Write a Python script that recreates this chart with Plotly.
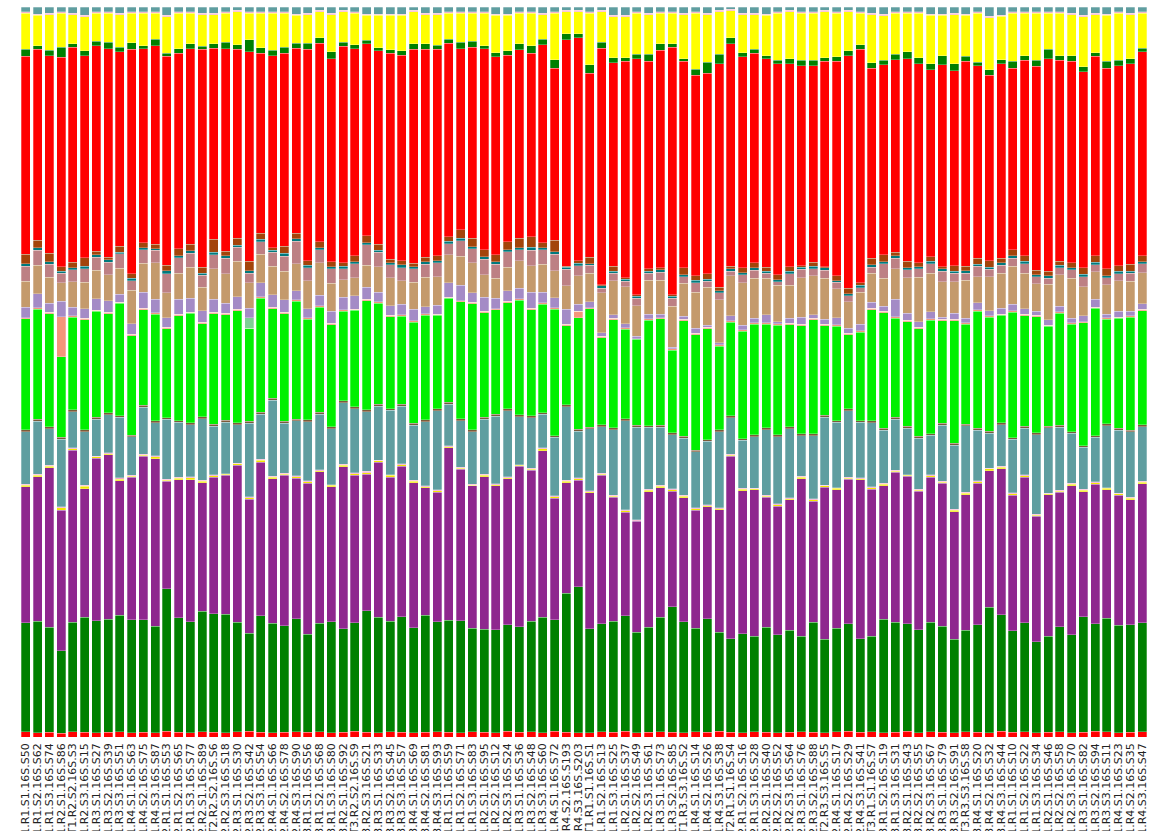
import plotly.graph_objects as go

labels = [
 "CT1.R1.S1.16S.S50","CT1.R1.S2.16S.S62","CT1.R1.S3.16S.S74","CT1.R2.S1.16S.S86","CT1.R2.S2.16S.S3","CT1.R2.S3.16S.S15",
 "CT1.R3.S1.16S.S27","CT1.R3.S2.16S.S39","CT1.R3.S3.16S.S51","CT1.R4.S1.16S.S63","CT1.R4.S2.16S.S75","CT1.R4.S3.16S.S87",
 "CT2.R1.S1.16S.S53","CT2.R1.S2.16S.S65","CT2.R1.S3.16S.S77","CT2.R2.S1.16S.S89","CT2.R2.S2.16S.S6","CT2.R2.S3.16S.S18",
 "CT2.R3.S1.16S.S30","CT2.R3.S2.16S.S42","CT2.R3.S3.16S.S54","CT2.R4.S1.16S.S66","CT2.R4.S2.16S.S78","CT2.R4.S3.16S.S90",
 "CT3.R1.S1.16S.S56","CT3.R1.S2.16S.S68","CT3.R1.S3.16S.S80","CT3.R2.S1.16S.S92","CT3.R2.S2.16S.S9","CT3.R2.S3.16S.S21",
 "CT3.R3.S1.16S.S33","CT3.R3.S2.16S.S45","CT3.R3.S3.16S.S57","CT3.R4.S1.16S.S69","CT3.R4.S2.16S.S81","CT3.R4.S3.16S.S93",
 "CK1.R1.S1.16S.S59","CK1.R1.S2.16S.S71","CK1.R1.S3.16S.S83","CK1.R2.S1.16S.S95","CK1.R2.S2.16S.S12","CK1.R2.S3.16S.S24",
 "CK1.R3.S1.16S.S36","CK1.R3.S2.16S.S48","CK1.R3.S3.16S.S60","CK1.R4.S1.16S.S72","CK1.R4.S2.16S.S193","CK1.R4.S3.16S.S203",
 "NT1.R1.S1.16S.S1","NT1.R1.S2.16S.S13","NT1.R1.S3.16S.S25","NT1.R2.S1.16S.S37","NT1.R2.S2.16S.S49","NT1.R2.S3.16S.S61",
 "NT1.R3.S1.16S.S73","NT1.R3.S2.16S.S85","NT1.R3.S3.16S.S2","NT1.R4.S1.16S.S14","NT1.R4.S2.16S.S26","NT1.R4.S3.16S.S38",
 "NT2.R1.S1.16S.S4","NT2.R1.S2.16S.S16","NT2.R1.S3.16S.S28","NT2.R2.S1.16S.S40","NT2.R2.S2.16S.S52","NT2.R2.S3.16S.S64",
 "NT2.R3.S1.16S.S76","NT2.R3.S2.16S.S88","NT2.R3.S3.16S.S5","NT2.R4.S1.16S.S17","NT2.R4.S2.16S.S29","NT2.R4.S3.16S.S41",
 "NT3.R1.S1.16S.S7","NT3.R1.S2.16S.S19","NT3.R1.S3.16S.S31","NT3.R2.S1.16S.S43","NT3.R2.S2.16S.S55","NT3.R2.S3.16S.S67",
 "NT3.R3.S1.16S.S79","NT3.R3.S2.16S.S91","NT3.R3.S3.16S.S8","NT3.R4.S1.16S.S20","NT3.R4.S2.16S.S32","NT3.R4.S3.16S.S44",
 "NK1.R1.S1.16S.S10","NK1.R1.S2.16S.S22","NK1.R1.S3.16S.S34","NK1.R2.S1.16S.S46","NK1.R2.S2.16S.S58","NK1.R2.S3.16S.S70",
 "NK1.R3.S1.16S.S82","NK1.R3.S2.16S.S94","NK1.R3.S3.16S.S11","NK1.R4.S1.16S.S23","NK1.R4.S2.16S.S35","NK1.R4.S3.16S.S47",
]

red_low = [11,9,10,8,11,10,9,10,11,9,10,9, 12,10,9,11,10,9,11,12,10,9,10,11, 10,11,9,10,12,10,9,11,10,9,10,11,
           10,9,11,10,9,12,10,11,9,12,10,9, 9,11,10,12,9,10,11,10,9,11,10,12, 10,9,11,10,9,10,11,10,9,11,12,10,
           11,9,10,12,9,11,10,9,11,10,9,12, 10,11,9,10,11,9,10,12,11,9,10,11]
green = [231,236,223,175,233,245,237,240,247,240,239,226, 303,243,235,256,251,251,232,208,247,232,226,240,
         208,230,235,220,230,258,245,235,245,223,248,233, 238,237,220,218,218,226,223,235,245,237,295,309,
         220,230,235,245,213,223,243,266,235,220,240,210, 198,210,203,223,208,216,203,233,198,220,228,198,
         203,240,233,228,218,233,225,198,216,228,266,248, 215,231,193,203,223,208,245,228,241,228,228,231]
purple = [289,307,338,298,365,273,344,348,286,301,346,355, 228,293,301,272,290,294,333,285,326,306,319,298,
          320,321,286,343,313,290,328,305,320,307,270,275, 365,321,301,324,305,310,340,320,353,258,235,226,
          288,315,263,220,235,287,275,245,263,250,238,260, 387,303,310,275,272,277,335,257,322,293,307,337,
          312,283,318,313,293,307,303,270,287,300,289,310, 288,309,265,300,285,315,265,297,272,275,265,295]
gold_thin = [3,3,3,5,3,5,3,2,3,3,3,4, 2,3,4,3,3,2,3,3,4,3,3,4, 3,2,3,3,3,3,3,4,3,3,2,3,
             3,3,2,3,3,3,2,3,4,3,3,3, 2,3,3,3,2,3,3,3,3,3,2,3, 3,3,2,3,3,2,3,3,3,3,2,3,
             3,3,3,2,3,3,2,3,3,3,4,3, 3,3,3,2,3,3,3,3,3,3,3,3]
pink_thin = [2,2,2,2,2,2,2,2,3,2,2,2, 2,2,2,2,2,2,2,2,2,2,2,2, 2,2,2,2,2,3,2,2,2,2,2,2,
             2,2,2,2,2,2,2,2,2,2,2,2, 2,2,2,2,2,2,2,2,2,2,2,2, 2,2,2,2,2,2,2,2,2,2,2,2,
             2,2,2,2,2,2,2,2,2,2,2,2, 2,2,2,2,2,2,2,2,2,2,2,2]
teal = [112,113,78,143,76,114,78,81,128,81,99,70, 127,116,111,131,103,109,81,156,96,161,106,116,
        126,118,118,131,136,126,114,136,122,117,136,168, 88,98,111,117,143,140,101,107,71,124,156,99,
        131,99,139,189,196,131,123,115,121,119,134,161, 77,101,109,139,142,146,86,134,144,138,141,117,
        136,113,108,98,108,84,119,136,141,108,74,88, 113,99,168,138,133,106,89,94,131,133,139,116]
brown_thin = [4,4,4,4,4,4,4,4,4,4,4,4, 3,4,4,4,4,4,4,4,4,4,4,4, 4,4,4,4,4,4,4,4,4,4,4,4,
              4,4,4,4,4,4,4,4,4,4,4,4, 4,4,4,4,4,4,4,4,4,4,4,4, 4,4,4,4,4,4,4,4,4,4,4,4,
              4,4,4,4,4,4,4,4,4,4,4,4, 4,4,4,4,4,4,4,4,4,4,4,4]
lime = [235,233,240,171,197,234,225,210,238,210,203,226, 189,222,232,197,235,223,238,198,242,190,228,250,
        213,223,217,190,205,232,214,195,187,214,222,198, 220,248,267,222,221,225,243,225,230,268,168,237,
        250,185,229,190,182,223,226,175,245,245,235,178, 199,227,234,219,232,217,230,242,190,200,158,187,
        236,245,210,222,228,240,217,260,212,248,242,228, 266,235,246,211,238,227,260,270,222,233,239,242]
salmon = [3,3,3,85,3,3,2,3,3,3,3,3, 3,3,2,3,3,3,3,0,3,3,3,3, 3,3,3,3,2,3,3,3,3,3,3,3,
          3,3,3,3,3,3,3,3,3,3,3,13, 3,3,3,3,2,3,3,3,3,3,3,3, 3,3,3,3,3,3,3,3,3,3,3,3,
          3,3,3,3,3,3,3,3,3,3,3,3, 3,3,3,3,3,3,3,3,3,3,3,3]
palegreen = [0,0,0,0,0,0,0,0,0,0,0,0, 0,0,0,0,0,0,0,22,0,0,0,0, 0,0,0,0,0,0,0,0,0,0,0,0,
             0,0,0,0,0,0,0,0,0,0,0,0, 0,0,0,0,0,0,0,0,0,0,0,0, 0,0,0,0,0,0,0,0,0,0,0,0,
             0,0,0,0,0,0,0,0,0,0,0,0, 0,0,0,0,0,0,0,0,0,0,0,0]
lavender = [22,30,19,32,18,20,24,24,17,23,34,29, 21,32,30,25,27,22,27,20,30,27,27,20,
            19,22,25,27,29,25,20,20,22,25,15,19, 30,32,20,30,22,22,22,34,22,22,32,15,
            12,7,7,9,5,10,7,3,7,10,4,4, 10,10,10,17,4,10,15,7,10,15,10,14,
            12,10,37,15,11,15,5,12,10,15,10,12, 14,12,9,11,12,10,12,17,7,12,10,12]
tan = [55,60,55,40,54,57,60,56,55,71,62,77, 53,55,65,50,65,62,75,55,60,60,60,57,
       60,69,60,37,38,47,55,60,50,57,62,60, 60,62,64,47,42,50,59,57,60,57,50,60,
       60,85,73,78,65,72,72,87,70,77,80,91, 85,90,85,78,78,70,84,83,87,62,57,68,
       62,60,65,75,95,82,75,67,80,55,72,75, 80,75,58,75,67,85,62,58,63,65,63,65]
rosy = [32,32,28,20,25,28,28,26,30,20,28,26, 40,33,30,25,30,33,30,20,27,30,32,48,
        27,28,30,23,30,43,30,27,28,28,28,30, 23,33,30,33,30,33,23,33,30,35,35,22,
        17,10,15,12,15,15,17,17,13,20,13,15, 10,17,17,10,7,25,18,15,17,13,12,10,
        13,30,22,17,18,20,22,18,15,22,16,17, 17,20,15,13,15,18,21,15,15,15,17,20]
darkteal = [5,6,5,4,5,6,5,5,4,5,5,4, 6,5,5,4,5,5,4,5,5,4,6,5, 5,4,5,5,4,5,5,4,6,5,5,4,
            5,5,4,5,5,5,4,6,5,5,4,5, 4,5,5,4,5,4,5,4,5,5,4,5, 5,4,5,5,4,5,4,5,5,4,5,5,
            5,4,5,5,4,5,5,4,5,5,4,5, 5,5,4,5,5,4,5,5,4,5,5,4]
brown = [20,15,18,10,11,18,8,6,12,10,10,9, 12,14,14,13,27,10,15,20,13,5,15,12,
         10,13,10,8,13,15,12,8,9,7,10,11, 10,18,18,15,15,17,20,22,10,25,3,5,
         13,3,10,3,3,5,5,3,14,10,12,7, 5,11,11,8,11,10,3,9,3,10,11,5,
         14,15,8,13,8,10,5,12,10,12,14,10, 13,12,9,10,8,10,14,14,15,12,15,12]
red = [420,405,419,443,457,429,435,442,413,476,411,421, 443,415,415,462,406,429,400,445,382,407,410,392,
       448,420,430,459,439,407,410,437,436,453,440,437, 410,384,405,427,420,396,400,390,420,365,480,473,
       390,502,432,460,500,440,461,525,438,425,425,475, 472,447,444,442,447,430,425,416,435,455,494,495,
       403,403,408,430,422,397,428,413,435,408,393,413, 385,415,433,450,427,427,416,423,425,423,425,433]
darkgreen = [15,8,11,22,7,11,10,13,10,13,7,14, 7,10,10,7,9,13,10,25,12,11,13,11,
             13,12,15,8,8,7,7,7,9,12,12,9, 9,13,12,6,8,9,12,16,12,18,13,8,
             18,13,10,7,10,15,14,7,5,13,23,20, 13,8,8,7,7,10,12,12,7,10,10,10,
             12,9,12,15,13,13,19,15,10,8,12,8, 15,10,12,20,10,12,10,8,15,12,10,8]
yellow = [77,64,76,72,62,72,59,62,69,63,69,55, 77,75,65,67,62,62,70,57,73,79,72,59,
          61,55,79,65,67,53,68,73,75,68,62,65, 55,62,60,69,79,75,65,69,52,99,47,47,
          109,65,87,87,87,84,65,65,94,119,101,90, 57,81,74,85,100,100,100,100,98,92,83,67,
          102,95,87,82,94,102,85,104,87,104,110,92, 102,90,100,77,90,87,106,81,97,100,94,74]
pink_top = [3,3,3,3,3,4,3,3,3,3,3,3, 3,3,3,3,3,3,3,3,3,3,3,3, 3,3,3,3,3,3,3,3,3,3,3,3,
            3,3,3,3,3,3,3,3,3,3,3,3, 3,3,3,3,3,3,3,3,3,3,3,3, 3,3,3,3,3,3,3,3,3,3,3,3,
            3,3,3,3,3,3,3,3,3,3,3,3, 3,3,3,3,3,3,3,3,3,3,3,3]
cadet_top = [10,15,13,10,13,17,10,10,13,10,10,10, 18,10,10,13,13,10,7,10,10,10,10,15,
             13,7,13,7,10,15,15,15,15,7,13,13, 10,10,10,10,15,15,10,10,13,10,7,7,
             10,7,18,18,10,13,10,10,13,10,13,7, 5,13,13,15,10,7,10,10,7,10,7,10,
             13,15,10,10,10,15,15,13,15,10,20,17, 10,10,10,10,10,13,18,13,15,10,13,10]

series = [
    ("Taxon_r1", red_low, "#FF0000"),
    ("Taxon_g1", green, "#008000"),
    ("Taxon_p1", purple, "#8E278E"),
    ("Taxon_y1", gold_thin, "#F2E600"),
    ("Taxon_k1", pink_thin, "#F4A6C8"),
    ("Taxon_c1", teal, "#5F9EA0"),
    ("Taxon_b1", brown_thin, "#7A5A3A"),
    ("Taxon_l1", lime, "#00F000"),
    ("Taxon_s1", salmon, "#F4967A"),
    ("Taxon_pg", palegreen, "#7ECF95"),
    ("Taxon_v1", lavender, "#A48BC6"),
    ("Taxon_t1", tan, "#C49A6C"),
    ("Taxon_rb", rosy, "#BD8084"),
    ("Taxon_dt", darkteal, "#00797C"),
    ("Taxon_br", brown, "#A3440A"),
    ("Taxon_r2", red, "#FF0000"),
    ("Taxon_g2", darkgreen, "#008000"),
    ("Taxon_y2", yellow, "#FFFF00"),
    ("Taxon_k2", pink_top, "#F8B4C8"),
    ("Taxon_c2", cadet_top, "#5F9EA0"),
]

fig = go.Figure()
for name, vals, col in series:
    fig.add_trace(go.Bar(
        x=labels, y=vals, name=name,
        marker=dict(color=col, line=dict(color="rgba(255,255,255,0.55)", width=0.5)),
    ))

fig.update_layout(
    width=1151, height=831,
    barmode="stack", barnorm="percent", bargap=0.23,
    showlegend=False,
    paper_bgcolor="white", plot_bgcolor="white",
    margin=dict(l=20, r=3, t=7, b=94, autoexpand=False),
    font=dict(family="DejaVu Sans", color="#222"),
)
fig.update_xaxes(tickangle=-90, tickmode="linear", dtick=1,
                 tickfont=dict(size=11, family="DejaVu Sans", color="#222"),
                 ticklabelstandoff=3,
                 showgrid=False, showline=False, zeroline=False, ticks="", automargin=False)
fig.update_yaxes(visible=False, range=[0, 100], showgrid=False, automargin=False)

fig.write_html("out.html", config={"displayModeBar": False},
               post_script="document.body.style.margin='0';document.body.style.overflow='hidden';")
